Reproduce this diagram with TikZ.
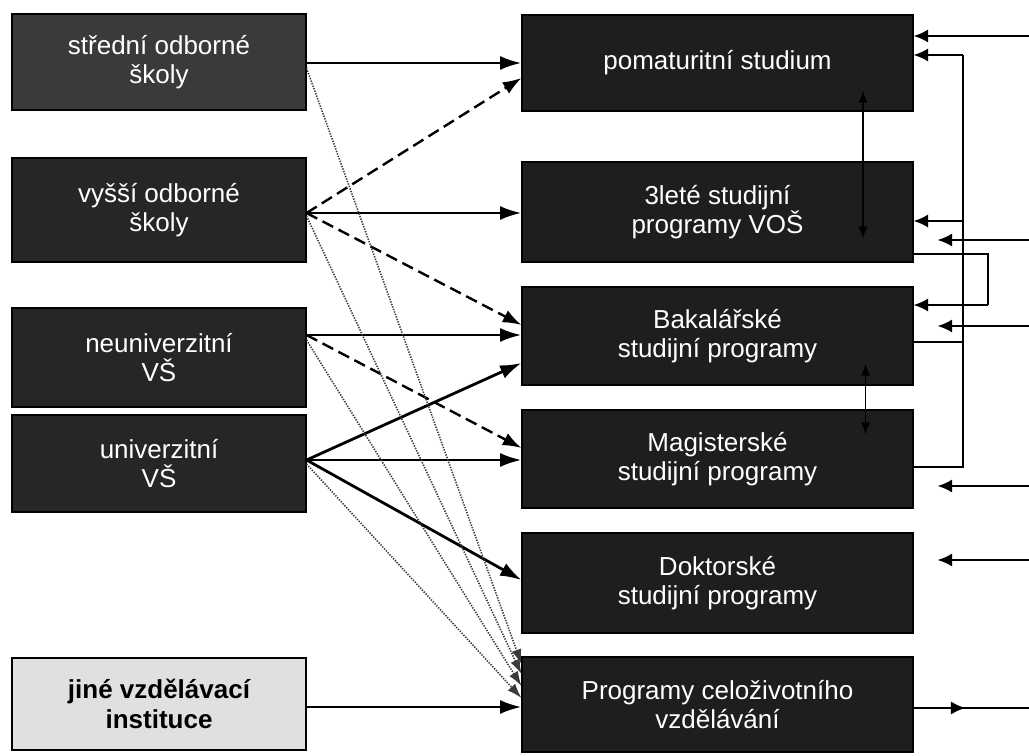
\documentclass[tikz,border=0pt]{standalone}
\usepackage{fontspec}
\setmainfont{Liberation Sans}
\usetikzlibrary{arrows.meta,calc,decorations.markings}

\definecolor{boxdark}{HTML}{1E1E1E}
\definecolor{boxleft}{HTML}{262626}
\definecolor{boxsos}{HTML}{3A3A3A}
\definecolor{boxlight}{HTML}{E0E0E0}
\definecolor{dotgray}{HTML}{3A3A3A}

\begin{document}
\begin{tikzpicture}[x=0.75pt,y=-0.75pt,
  box/.style={draw=black, line width=0.8pt, fill=boxdark, text=white,
    align=center, inner sep=0pt, font=\fontsize{19.5}{22}\selectfont},
  lbox/.style={box, fill=boxleft, minimum width=220.5pt},
  rbox/.style={box, minimum width=293.25pt},
  solidarrow/.style={line width=2.1pt, -{Latex[length=16pt,width=10.5pt]}},
  dasharrow/.style={line width=1.8pt, dash pattern=on 9pt off 4.5pt,
    -{Latex[length=14pt,width=10pt]}},
  dotarrow/.style={line width=1.2pt, dotgray, dash pattern=on 1pt off 1pt,
    -{Latex[length=11pt,width=7.5pt]}},
  sideline/.style={line width=1.6pt},
  sidearrow/.style={sideline, -{Latex[length=11pt,width=10pt]}},
  busline/.style={line width=1.3pt},
  inarrow/.style={line width=1.4pt, {Latex[length=9pt,width=7pt]}-{Latex[length=9pt,width=7pt]}},
]
\useasboundingbox (0,0) rectangle (1029,756);
\fill[white] (0,0) rectangle (1029,756);

% source institutions
\node[lbox, fill=boxsos, minimum height=72pt] (sos) at (159,62) {střední odborné\\školy};
\node[lbox, minimum height=78pt] (vos) at (159,210) {vyšší odborné\\školy};
\node[lbox, minimum height=74.25pt] (neu) at (159,357.5) {neuniverzitní\\VŠ};
\node[lbox, minimum height=72.75pt] (uni) at (159,463.5) {univerzitní\\VŠ};
\node[lbox, fill=boxlight, text=black, line width=1.5pt, minimum height=69pt,
  font=\fontsize{19.5}{22}\selectfont\bfseries] (jine) at (159,704) {jiné vzdělávací\\instituce};

% study programmes
\node[rbox, minimum height=72pt] (pom) at (717.5,63) {pomaturitní studium};
\node[rbox, minimum height=75pt] (tri) at (717.5,212) {3leté studijní\\programy VOŠ};
\node[rbox, minimum height=73.5pt] (bak) at (717.5,336) {Bakalářské\\studijní programy};
\node[rbox, minimum height=73.5pt] (mag) at (717.5,459) {Magisterské\\studijní programy};
\node[rbox, minimum height=75pt] (dok) at (717.5,583) {Doktorské\\studijní programy};
\node[rbox, minimum height=71.25pt] (cel) at (717.5,704.5) {Programy celoživotního\\vzdělávání};

% solid connections
\draw[solidarrow] (sos.east |- 0,63) -- (pom.west |- 0,63);
\draw[solidarrow] (vos.east |- 0,213) -- (tri.west |- 0,213);
\draw[solidarrow] (neu.east |- 0,335) -- (bak.west |- 0,335);
\draw[solidarrow] (uni.east |- 0,460) -- (bak.west |- 0,363);
\draw[solidarrow] (uni.east |- 0,460) -- (mag.west |- 0,460);
\draw[solidarrow] (uni.east |- 0,460) -- (dok.west |- 0,580);
\draw[solidarrow] (jine.east |- 0,707) -- (cel.west |- 0,707);

% dashed connections
\draw[dasharrow] (vos.east |- 0,213) -- (pom.west |- 0,78);
\draw[dasharrow] (vos.east |- 0,213) -- (bak.west |- 0,325);
\draw[dasharrow] (neu.east |- 0,335) -- (mag.west |- 0,448);

% dotted connections to lifelong learning
\draw[dotarrow] (sos.east |- 0,68) -- (cel.west |- 0,664);
\draw[dotarrow] (vos.east |- 0,216) -- (cel.west |- 0,674);
\draw[dotarrow] (neu.east |- 0,340) -- (cel.west |- 0,686);
\draw[dotarrow] (uni.east |- 0,464) -- (cel.west |- 0,698);

% transitions between programmes
\draw[inarrow] ($(pom.south)+(145.5,-21)$) -- ($(tri.south)+(145.5,-24)$);
\draw[inarrow] ($(bak.south)+(148,-22)$) -- ($(mag.north)+(148,25)$);

% feedback bus on the right
\coordinate (bustop) at (963,55);
\coordinate (busbot) at (963,467);
\draw[busline] (mag.east |- busbot) -- (busbot) -- (bustop);
\draw[sidearrow] (bustop) -- (pom.east |- bustop);
\draw[sidearrow] (busbot |- 0,221) -- (tri.east |- 0,221);
\draw[busline] (bak.east |- 0,342) -- (busbot |- 0,342);

% loop from VOŠ programmes to bachelor programmes
\coordinate (loopA) at (988,254);
\coordinate (loopB) at (988,305);
\draw[sideline] (tri.east |- loopA) -- (loopA) -- (loopB);
\draw[sidearrow] (loopB) -- (bak.east |- loopB);

% entries from outside
\coordinate (in1) at (1029,36);
\coordinate (in2) at (1029,240);
\coordinate (in3) at (1029,326);
\coordinate (in4) at (1029,486);
\coordinate (in5) at (1029,560);
\coordinate (out1) at (1029,708);
\draw[sidearrow] (in1) -- (pom.east |- in1);
\draw[sidearrow] (in2) -- ($(tri.east |- in2)+(24,0)$);
\draw[sidearrow] (in3) -- ($(bak.east |- in3)+(24,0)$);
\draw[sidearrow] (in4) -- ($(mag.east |- in4)+(24,0)$);
\draw[sidearrow] (in5) -- ($(dok.east |- in5)+(24,0)$);
\draw[sideline, postaction={decorate}, decoration={markings,
  mark=at position 0.45 with {\arrow{Latex[length=11pt,width=10pt]}}}]
  (cel.east |- out1) -- (out1);
\end{tikzpicture}
\end{document}
